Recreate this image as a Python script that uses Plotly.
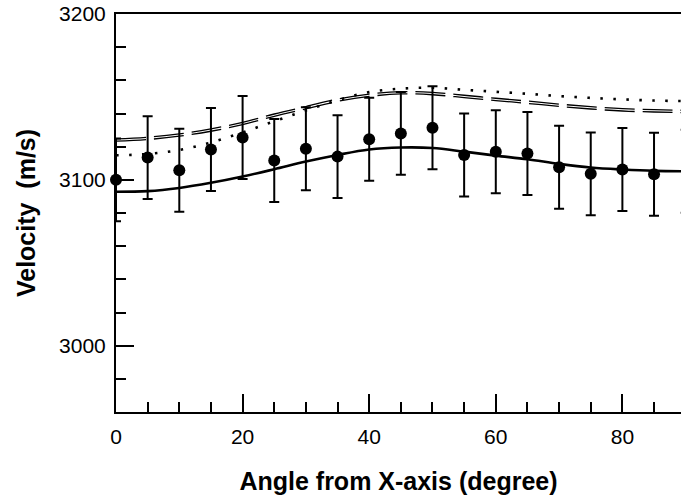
import plotly.graph_objects as go

# Measured data (angle in degrees, velocity in m/s)
angles = [0, 5, 10, 15, 20, 25, 30, 35, 40, 45, 50, 55, 60, 65, 70, 75, 80, 85, 90]
measured = [3100.0, 3113.4, 3105.8, 3118.3, 3125.5, 3111.7, 3118.7, 3114.0, 3124.5, 3128.0,
            3131.4, 3115.0, 3116.9, 3115.9, 3107.6, 3103.6, 3106.2, 3103.4, 3105.2]
measured_err = [25, 25, 25, 25, 25, 25, 25, 25, 25, 25, 25, 25, 25, 25, 25, 25, 25, 25, 25]

# Model curves
solid_curve = [3092.8, 3093.2, 3095.1, 3098.2, 3102.0, 3106.4, 3111.0, 3115.0, 3118.3, 3119.5,
               3119.2, 3117.0, 3114.6, 3112.4, 3109.6, 3107.4, 3106.2, 3105.4, 3105.2]
dotted_curve = [3114.8, 3115.6, 3118.0, 3122.5, 3128.6, 3135.3, 3141.8, 3148.0, 3152.9, 3155.0,
                3155.5, 3154.3, 3153.1, 3151.9, 3150.5, 3149.4, 3148.5, 3147.8, 3147.5]
dashed_upper = [3124.7, 3125.7, 3127.7, 3130.7, 3134.7, 3139.7, 3144.2, 3148.7, 3151.7, 3153.2,
                3152.7, 3151.0, 3149.2, 3147.5, 3145.7, 3144.1, 3142.9, 3142.3, 3141.9]
dashed_lower = [3123.3, 3124.3, 3126.3, 3129.3, 3133.3, 3138.3, 3142.8, 3147.3, 3150.3, 3151.8,
                3151.3, 3149.6, 3147.8, 3146.1, 3144.3, 3142.7, 3141.5, 3140.9, 3140.5]

x_ticks = [0, 20, 40, 60, 80]
y_ticks = [3000, 3100, 3200]

FONT = "Liberation Sans, Arial, Helvetica, sans-serif"

fig = go.Figure()

fig.add_trace(go.Scatter(x=angles, y=dotted_curve, mode="lines",
                         line=dict(color="black", width=2.6, dash="2.5px,10.5px", shape="spline"),
                         cliponaxis=False, showlegend=False))
fig.add_trace(go.Scatter(x=angles, y=dashed_upper, mode="lines",
                         line=dict(color="black", width=1.3, dash="30px,8px", shape="spline"),
                         cliponaxis=False, showlegend=False))
fig.add_trace(go.Scatter(x=angles, y=dashed_lower, mode="lines",
                         line=dict(color="black", width=1.3, dash="30px,8px", shape="spline"),
                         cliponaxis=False, showlegend=False))
fig.add_trace(go.Scatter(x=angles, y=solid_curve, mode="lines",
                         line=dict(color="black", width=2.6, shape="spline"),
                         cliponaxis=False, showlegend=False))
fig.add_trace(go.Scatter(x=angles, y=measured, mode="markers",
                         marker=dict(color="black", size=12),
                         error_y=dict(type="data", array=measured_err, visible=True,
                                      color="black", thickness=2, width=5),
                         cliponaxis=False, showlegend=False))

fig.update_layout(
    width=681, height=498,
    margin=dict(l=116, r=0, t=14, b=86, autoexpand=False),
    paper_bgcolor="white", plot_bgcolor="white",
    font=dict(family=FONT, color="black", size=21),
)

fig.update_xaxes(
    range=[0, 89.26], tickvals=x_ticks, ticktext=[str(v) for v in x_ticks],
    showgrid=False, zeroline=False, automargin=False,
    showline=True, linecolor="black", linewidth=2, mirror=True,
    ticks="inside", ticklen=18, tickwidth=2, tickcolor="black",
    minor=dict(dtick=5, tick0=0, ticks="inside", ticklen=10, tickwidth=2, tickcolor="black"),
    tickfont=dict(family=FONT, size=21), ticklabelstandoff=5,
    title=dict(text="<b>Angle from X-axis (degree)</b>", font=dict(family=FONT, size=25), standoff=25),
)
fig.update_yaxes(
    range=[2960, 3200], tickvals=y_ticks, ticktext=[str(v) for v in y_ticks],
    showgrid=False, zeroline=False, automargin=False,
    showline=True, linecolor="black", linewidth=2, mirror=False,
    ticks="inside", ticklen=18, tickwidth=2, tickcolor="black",
    minor=dict(dtick=20, tick0=2960, ticks="inside", ticklen=10, tickwidth=2, tickcolor="black"),
    tickfont=dict(family=FONT, size=21), ticklabelstandoff=4,
    title=dict(text="<b>Velocity  (m/s)</b>", font=dict(family=FONT, size=25), standoff=16),
)

fig.write_html("out.html", config={"displayModeBar": False},
               post_script="document.body.style.margin='0px';document.body.style.overflow='hidden';")
